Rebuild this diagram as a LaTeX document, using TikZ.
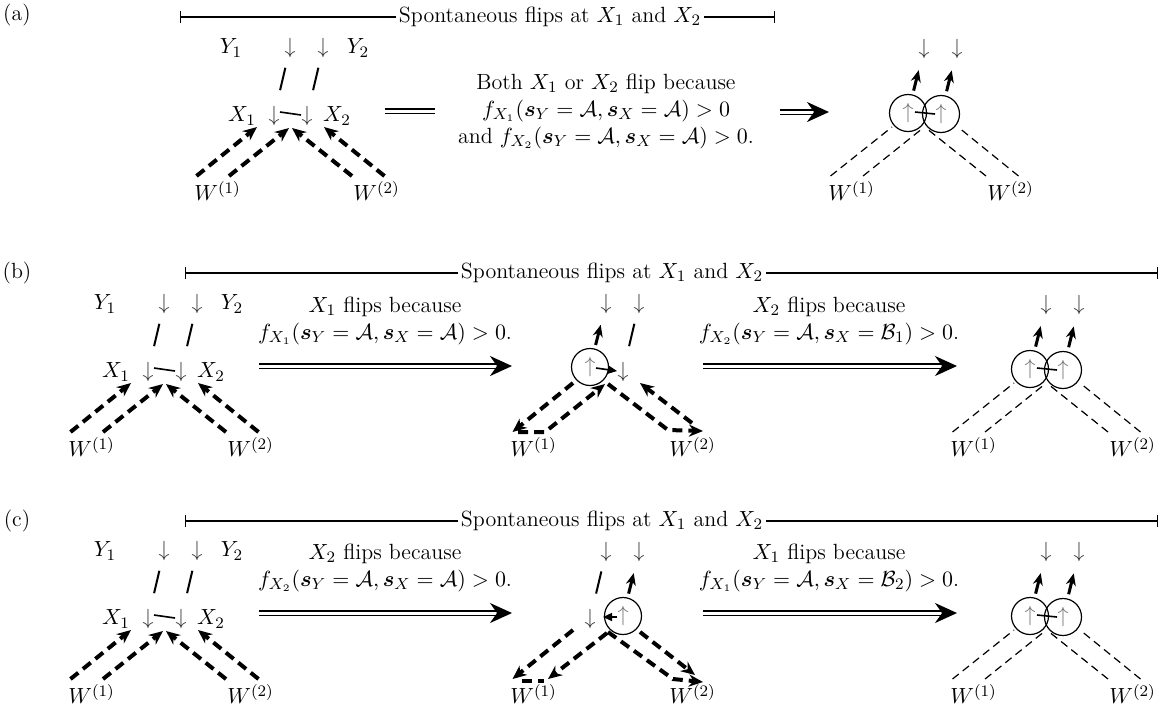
\documentclass[tikz,border=0pt]{standalone}
\usepackage{amsmath, amssymb}
\usepackage{tikz}
\usetikzlibrary{arrows.meta, positioning, calc}

\begin{document}
\begin{tikzpicture}[x=0.5pt, y=-0.5pt,
  every node/.style={font=\fontsize{11}{13.5}\selectfont},
  spin/.style={inner sep=0pt, text=black!80},
  flipped/.style={circle, draw=black, text=black!55, line width=0.6pt,
                  minimum size=18.5pt, inner sep=0pt},
  ylink/.style={line width=1pt},
  xlink/.style={line width=0.8pt},
  upflip/.style={line width=1.5pt, -{Stealth[length=6pt, width=5pt]}},
  wedge/.style={line width=2pt, dash pattern=on 5pt off 3pt,
                -{Stealth[length=7pt, width=6pt]}},
  wplain/.style={line width=0.6pt, dash pattern=on 4pt off 2.5pt},
  bracket/.style={line width=0.6pt},
  implies/.style={double, double distance=1.5pt, line width=0.9pt,
                  -{Stealth[length=11pt, width=10pt, inset=3.5pt]}},
  equals/.style={double, double distance=1.5pt, line width=0.9pt},
]
\useasboundingbox (0,0) rectangle (1165,709);

% ── row labels and spans ──
\node (a-tag) at (17,15)  {(a)};
\node (b-tag) at (17,273) {(b)};
\node (c-tag) at (17,521) {(c)};
\foreach \row/\sy/\sx/\sl/\sr in {a/17/550/180/775, b/273/612/185/1158, c/521/612/185/1158}{
  \node[fill=white, inner sep=1.5pt] (\row-span) at (\sx,\sy) {Spontaneous flips at $X_1$ and $X_2$};
  \coordinate (\row-s1) at (\sl,\sy);
  \coordinate (\row-s2) at (\sr,\sy);
  \draw[bracket, {Bar[width=6pt]}-] (\row-s1) -- (\row-span.west);
  \draw[bracket, -{Bar[width=6pt]}] (\row-span.east) -- (\row-s2);
}

% ── starting configuration ──
\foreach \row/\cx/\cy in {a/290.5/116, b/164.5/372, c/164.5/619}{
  \node[spin] (\row-x1) at (\cx-16.5,\cy) {$\downarrow$};
  \node[spin] (\row-x2) at (\cx+16.5,\cy) {$\downarrow$};
  \node[spin] (\row-y1) at (\cx-0.5,\cy-68) {$\downarrow$};
  \node[spin] (\row-y2) at (\cx+32.5,\cy-68) {$\downarrow$};
  \node (\row-lx1) at (\cx-48.5,\cy) {$X_1$};
  \node (\row-lx2) at (\cx+46.5,\cy) {$X_2$};
  \node (\row-ly1) at (\cx-59.5,\cy-68) {$Y_1$};
  \node (\row-ly2) at (\cx+67.5,\cy-68) {$Y_2$};
  \node (\row-w1) at (\cx-73,\cy+75) {$W^{(1)}$};
  \node (\row-w2) at (\cx+86,\cy+75) {$W^{(2)}$};
  \coordinate (\row-w1o) at (\cx-94,\cy+60);
  \coordinate (\row-w1i) at (\cx-61.5,\cy+60);
  \coordinate (\row-w2i) at (\cx+61.5,\cy+60);
  \coordinate (\row-w2o) at (\cx+94,\cy+60);
  \draw[ylink] ($(\row-y1)!0.29!(\row-x1)$) -- ($(\row-y1)!0.62!(\row-x1)$);
  \draw[ylink] ($(\row-y2)!0.29!(\row-x2)$) -- ($(\row-y2)!0.62!(\row-x2)$);
  \draw[xlink] ($(\row-x1)+(6,-4)$) -- ($(\row-x2)+(-6,-1)$);
  \draw[wedge] (\row-w1o) -- ($(\row-x1)+(-17,11)$);
  \draw[wedge] (\row-w1i) -- ($(\row-x1)+(15,12)$);
  \draw[wedge] (\row-w2i) -- ($(\row-x2)+(-15,12)$);
  \draw[wedge] (\row-w2o) -- ($(\row-x2)+(17,11)$);
}

% ── both spins flipped ──
\foreach \row/\cx/\cy in {a/924.5/116, b/1046.5/372, c/1046.5/619}{
  \node[flipped] (\row-f1) at (\cx-16.5,\cy-3) {$\uparrow$};
  \node[flipped] (\row-f2) at (\cx+16.5,\cy-2) {$\uparrow$};
  \node[spin] (\row-g1) at (\cx-0.5,\cy-67) {$\downarrow$};
  \node[spin] (\row-g2) at (\cx+32.5,\cy-67) {$\downarrow$};
  \node (\row-v1) at (\cx-73,\cy+75) {$W^{(1)}$};
  \node (\row-v2) at (\cx+86,\cy+75) {$W^{(2)}$};
  \coordinate (\row-v1o) at (\cx-94,\cy+60);
  \coordinate (\row-v1i) at (\cx-61.5,\cy+60);
  \coordinate (\row-v2i) at (\cx+61.5,\cy+60);
  \coordinate (\row-v2o) at (\cx+94,\cy+60);
  \draw[xlink] ($(\row-f1)+(7,-1)$) -- ($(\row-f2)+(-6,0)$);
  \draw[upflip] ($(\row-g1)!0.65!(\row-f1)$) -- ($(\row-g1)!0.33!(\row-f1)$);
  \draw[upflip] ($(\row-g2)!0.65!(\row-f2)$) -- ($(\row-g2)!0.33!(\row-f2)$);
  \draw[wplain] (\row-v1o) -- ($(\row-f1)+(-16,14)$);
  \draw[wplain] (\row-v1i) -- ($(\row-f1)+(15,15)$);
  \draw[wplain] (\row-v2i) -- ($(\row-f2)+(-15,14)$);
  \draw[wplain] (\row-v2o) -- ($(\row-f2)+(17,13)$);
}

% ── (b) only X_1 flipped ──
\node[flipped] (b-m1) at (590,367) {$\uparrow$};
\node[spin] (b-m2) at (623,372) {$\downarrow$};
\node[spin] (b-n1) at (606,304) {$\downarrow$};
\node[spin] (b-n2) at (639,304) {$\downarrow$};
\node (b-u1) at (533.5,447) {$W^{(1)}$};
\node (b-u2) at (692.5,447) {$W^{(2)}$};
\coordinate (b-u1o) at (512.5,432);
\coordinate (b-u1a) at (518,432);
\coordinate (b-u1i) at (545,432);
\coordinate (b-u2i) at (668,430);
\coordinate (b-u2o) at (703,431);
\coordinate (b-u2s) at (692,423);
\draw[upflip] ($(b-n1)!0.65!(b-m1)$) -- ($(b-n1)!0.33!(b-m1)$);
\draw[ylink] ($(b-n2)!0.29!(b-m2)$) -- ($(b-n2)!0.62!(b-m2)$);
\draw[xlink, -{Triangle[length=4.5pt, width=4pt]}] ($(b-m1)+(6,1)$) -- ($(b-m2)+(-6,-1)$);
\draw[wedge] ($(b-m1)+(-17,16)$) -- (b-u1o);
\draw[wedge] (b-u1a) -- (b-u1i) -- ($(b-m2)+(-18,12)$);
\draw[wedge] ($(b-m1)+(18,17)$) -- (b-u2i) -- (b-u2o);
\draw[wedge] (b-u2s) -- ($(b-m2)+(17,11)$);

% ── (c) only X_2 flipped ──
\node[spin] (c-m1) at (590,619) {$\downarrow$};
\node[flipped] (c-m2) at (623,616) {$\uparrow$};
\node[spin] (c-n1) at (606,552) {$\downarrow$};
\node[spin] (c-n2) at (639,552) {$\downarrow$};
\node (c-u1) at (533.5,694) {$W^{(1)}$};
\node (c-u2) at (692.5,694) {$W^{(2)}$};
\coordinate (c-u1o) at (512.5,679);
\coordinate (c-u1a) at (522,681);
\coordinate (c-u1i) at (548,679);
\coordinate (c-u2i) at (673,679);
\coordinate (c-u2o) at (703,682);
\coordinate (c-u2s) at (695,675);
\draw[ylink] ($(c-n1)!0.29!(c-m1)$) -- ($(c-n1)!0.62!(c-m1)$);
\draw[upflip] ($(c-n2)!0.65!(c-m2)$) -- ($(c-n2)!0.33!(c-m2)$);
\draw[xlink, -{Triangle[length=4.5pt, width=4pt]}] ($(c-m2)+(-6,1)$) -- ($(c-m1)+(13,-2)$);
\draw[wedge] ($(c-m1)+(-17,11)$) -- (c-u1o);
\draw[wedge, -] (c-u1a) -- ($(c-u1i)+(-4,2)$);
\draw[wedge] ($(c-m2)+(-16,17)$) -- (c-u1i);
\draw[wedge] ($(c-m1)+(18,13)$) -- (c-u2i) -- (c-u2o);
\draw[wedge] ($(c-m2)+(17,16)$) -- (c-u2s);

% ── transitions ──
\coordinate (a-e1) at (385,111);
\coordinate (a-e2) at (435,111);
\draw[equals] (a-e1) -- (a-e2);
\node[align=center] (a-why) at (606,111)
  {Both $X_1$ or $X_2$ flip because\\
   $f_{X_1}(\boldsymbol{s}_Y=\mathcal{A},\boldsymbol{s}_X=\mathcal{A})>0$\\
   and $f_{X_2}(\boldsymbol{s}_Y=\mathcal{A},\boldsymbol{s}_X=\mathcal{A})>0$.};
\coordinate (a-i1) at (780,112);
\coordinate (a-i2) at (829,112);
\draw[implies] (a-i1) -- (a-i2);

\foreach \row/\ty/\ay/\fa/\fb/\sb in {b/321/366/1/2/1, c/568/613/2/1/2}{
  \coordinate (\row-i1) at (259,\ay);
  \coordinate (\row-i2) at (512,\ay);
  \coordinate (\row-j1) at (703,\ay);
  \coordinate (\row-j2) at (957,\ay);
  \draw[implies] (\row-i1) -- (\row-i2);
  \draw[implies] (\row-j1) -- (\row-j2);
  \node[align=center] (\row-why1) at (385,\ty)
    {$X_\fa$ flips because\\
     $f_{X_\fa}(\boldsymbol{s}_Y=\mathcal{A},\boldsymbol{s}_X=\mathcal{A})>0$.};
  \node[align=center] (\row-why2) at (829,\ty)
    {$X_\fb$ flips because\\
     $f_{X_\fb}(\boldsymbol{s}_Y=\mathcal{A},\boldsymbol{s}_X=\mathcal{B}_\sb)>0$.};
}
\end{tikzpicture}
\end{document}
